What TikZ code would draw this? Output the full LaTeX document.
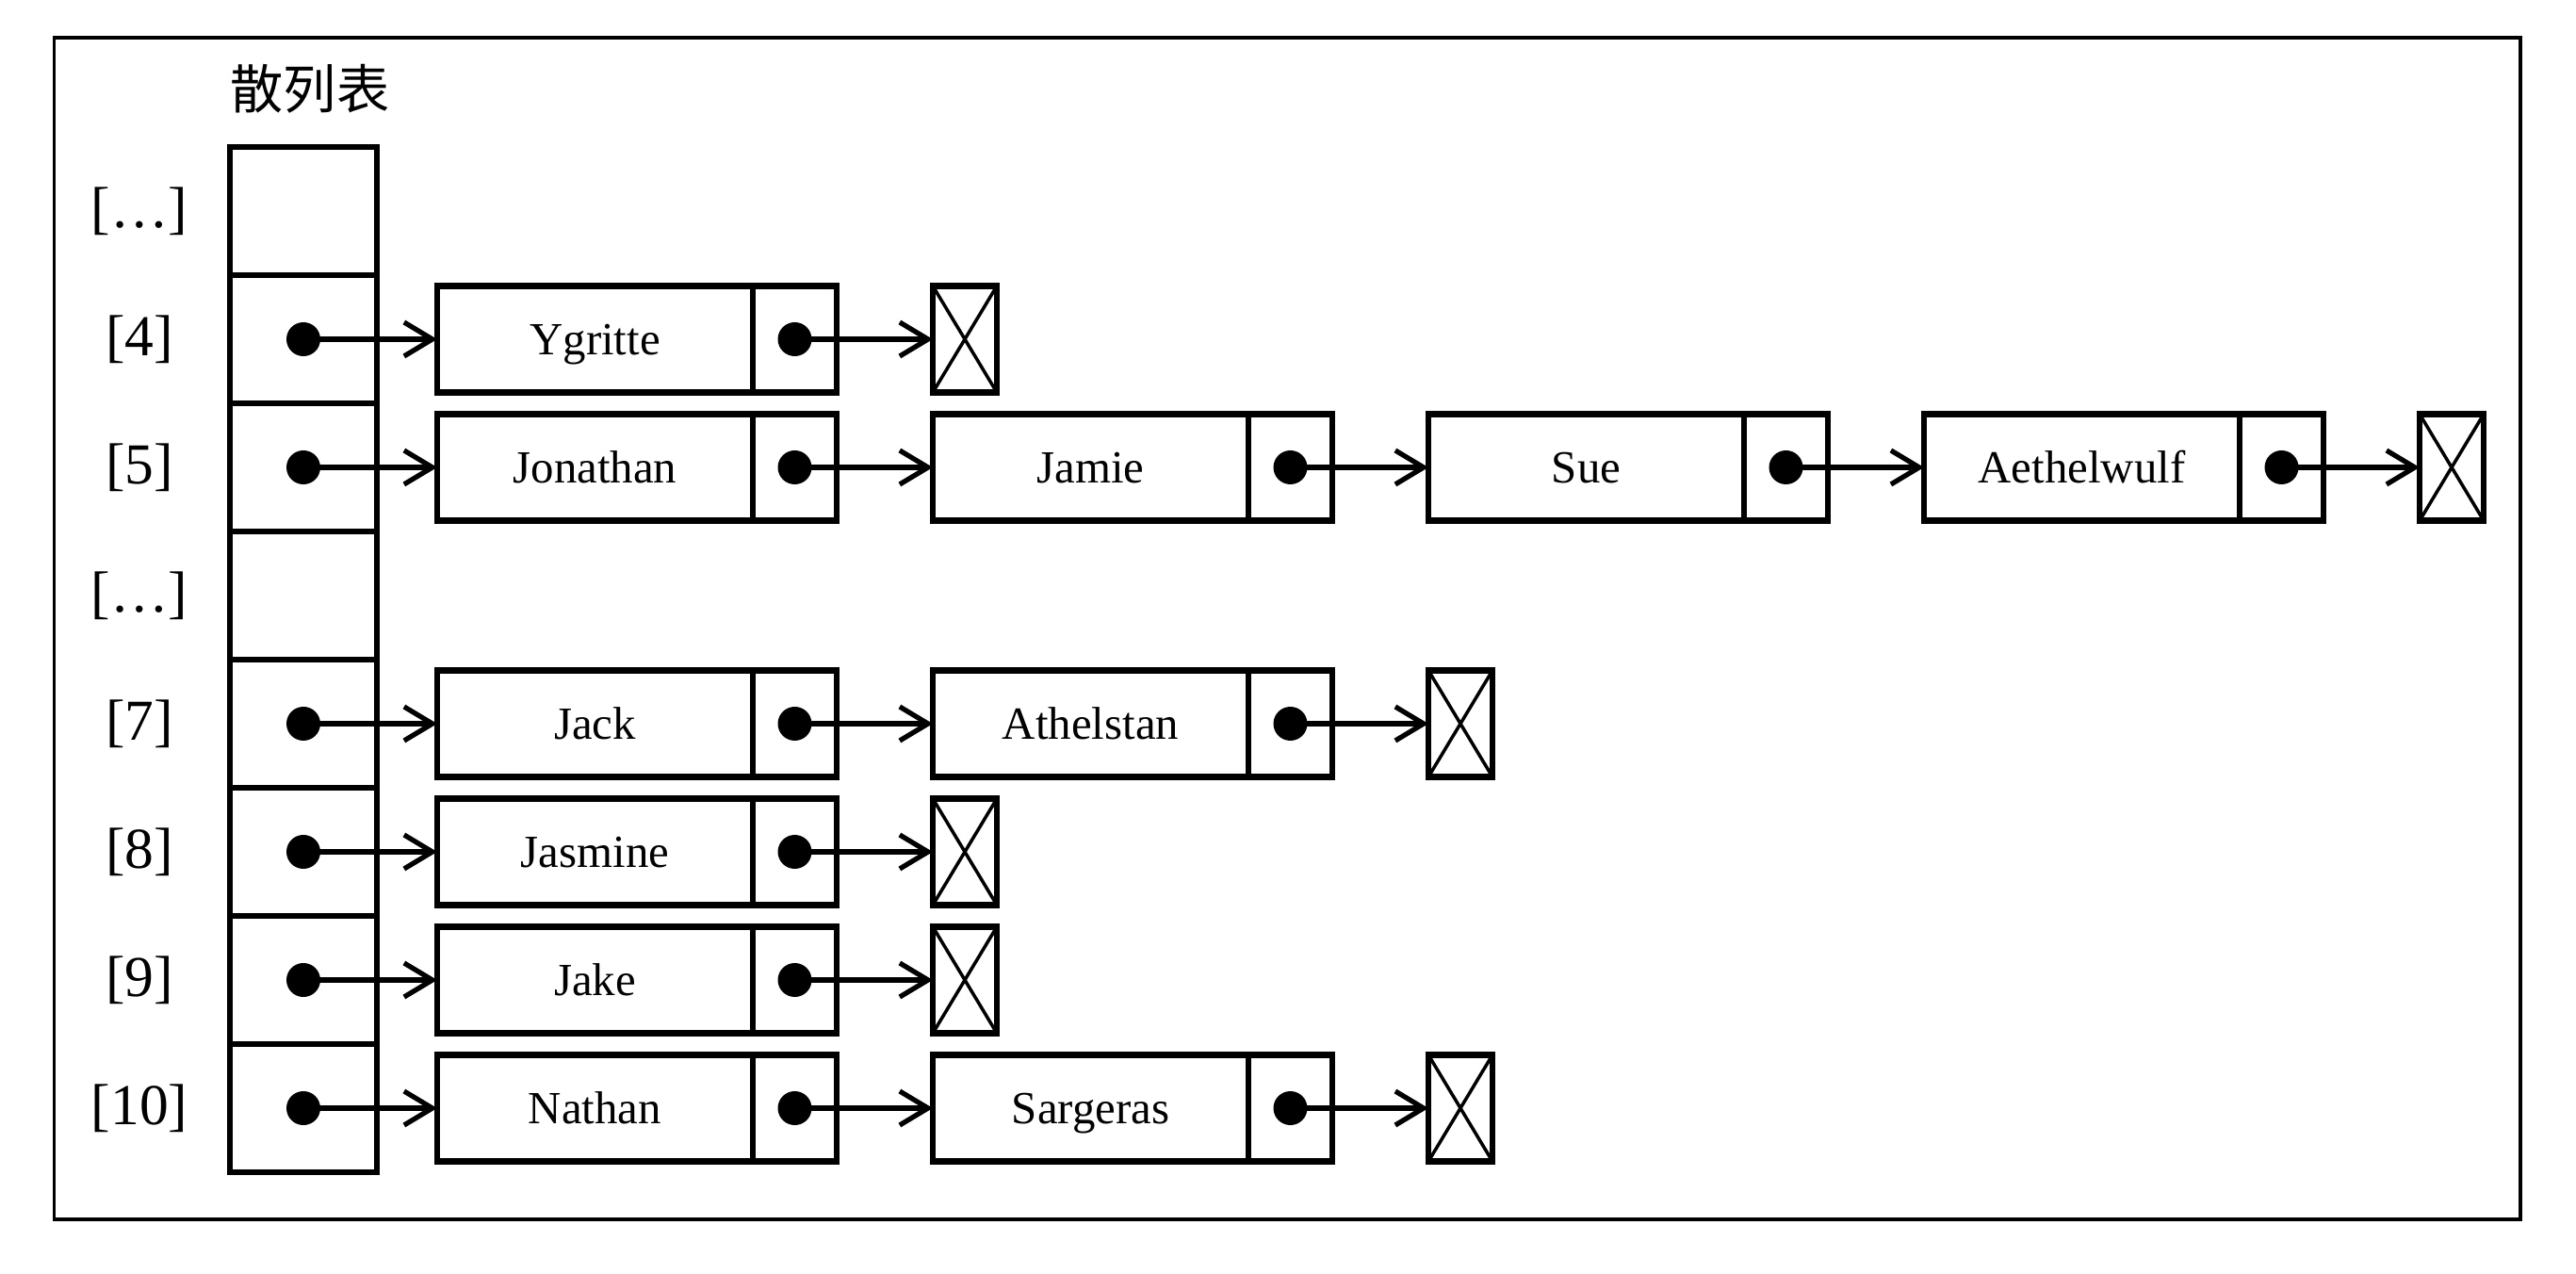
\documentclass[tikz,border=0pt]{standalone}
\usepackage{fontspec}
\setmainfont{Liberation Serif}
\newfontfamily\cjk{Noto Sans CJK SC}
\usepackage{tikz}
\usetikzlibrary{arrows.meta, positioning}

\begin{document}
\begin{tikzpicture}[
    x=1cm, y=1cm,
    slot/.style={rectangle, draw, line width=1.9pt, minimum width=1.56cm, minimum height=1.36cm, outer sep=0pt, inner sep=0pt},
    idx/.style={font=\fontsize{17.5pt}{20pt}\selectfont, inner sep=0pt},
    data/.style={rectangle, draw, line width=1.9pt, minimum width=3.35cm, minimum height=1.13cm, outer sep=0pt, inner sep=0pt,
        text height=9.2pt, text depth=0pt, font=\fontsize{13.9pt}{16pt}\selectfont},
    ptr/.style={rectangle, draw, line width=1.9pt, minimum width=0.89cm, minimum height=1.13cm, outer sep=0pt, inner sep=0pt},
    nil/.style={rectangle, draw, line width=1.9pt, minimum width=0.68cm, minimum height=1.13cm, outer sep=0pt, inner sep=0pt,
        path picture={\draw[line width=1pt] (path picture bounding box.north west) -- (path picture bounding box.south east)
            (path picture bounding box.south west) -- (path picture bounding box.north east);}},
    link/.style={-{Straight Barb[length=0.3cm, width=0.36cm]}, line width=1.5pt},
    dot/.style={circle, fill, minimum size=0.36cm, inner sep=0pt},
]
\useasboundingbox (0,0) rectangle (27.34,-13.52);
\draw[line width=1pt] (0.575,-0.40) rectangle (26.75,-12.94);

% Hash table
\node[slot] (t0) at (3.22,-2.24) {};
\node[slot, below=0pt of t0] (t1) {};
\node[slot, below=0pt of t1] (t2) {};
\node[slot, below=0pt of t2] (t3) {};
\node[slot, below=0pt of t3] (t4) {};
\node[slot, below=0pt of t4] (t5) {};
\node[slot, below=0pt of t5] (t6) {};
\node[slot, below=0pt of t6] (t7) {};
\node[font=\cjk\fontsize{16pt}{18pt}\selectfont, inner sep=0pt, anchor=west] (title) at ([yshift=0.62cm]t0.north west) {散列表};

% Indices
\node[idx] (l0) at (1.48,-2.24) {[…]};
\node[idx] (l1) at (l0 |- t1) {[4]};
\node[idx] (l2) at (l0 |- t2) {[5]};
\node[idx] (l3) at (l0 |- t3) {[…]};
\node[idx] (l4) at (l0 |- t4) {[7]};
\node[idx] (l5) at (l0 |- t5) {[8]};
\node[idx] (l6) at (l0 |- t6) {[9]};
\node[idx] (l7) at (l0 |- t7) {[10]};

% Bucket [4]
\node[data, right=0.64cm of t1] (ygr) {Ygritte};
\node[ptr, right=0pt of ygr] (ygrp) {};
\node[nil, right=1.02cm of ygrp] (n4) {};

% Bucket [5]
\node[data, right=0.64cm of t2] (jon) {Jonathan};
\node[ptr, right=0pt of jon] (jonp) {};
\node[data, right=1.02cm of jonp] (jam) {Jamie};
\node[ptr, right=0pt of jam] (jamp) {};
\node[data, right=1.02cm of jamp] (sue) {Sue};
\node[ptr, right=0pt of sue] (suep) {};
\node[data, right=1.02cm of suep] (aet) {Aethelwulf};
\node[ptr, right=0pt of aet] (aetp) {};
\node[nil, right=1.02cm of aetp] (n5) {};

% Bucket [7]
\node[data, right=0.64cm of t4] (jac) {Jack};
\node[ptr, right=0pt of jac] (jacp) {};
\node[data, right=1.02cm of jacp] (ath) {Athelstan};
\node[ptr, right=0pt of ath] (athp) {};
\node[nil, right=1.02cm of athp] (n7) {};

% Bucket [8]
\node[data, right=0.64cm of t5] (jas) {Jasmine};
\node[ptr, right=0pt of jas] (jasp) {};
\node[nil, right=1.02cm of jasp] (n8) {};

% Bucket [9]
\node[data, right=0.64cm of t6] (jak) {Jake};
\node[ptr, right=0pt of jak] (jakp) {};
\node[nil, right=1.02cm of jakp] (n9) {};

% Bucket [10]
\node[data, right=0.64cm of t7] (nat) {Nathan};
\node[ptr, right=0pt of nat] (natp) {};
\node[data, right=1.02cm of natp] (sar) {Sargeras};
\node[ptr, right=0pt of sar] (sarp) {};
\node[nil, right=1.02cm of sarp] (n10) {};

% Pointers
\draw[link] (t1.center) -- (ygr.west);   \node[dot] at (t1) {};
\draw[link] (ygrp.center) -- (n4.west);  \node[dot] at (ygrp) {};
\draw[link] (t2.center) -- (jon.west);   \node[dot] at (t2) {};
\draw[link] (jonp.center) -- (jam.west); \node[dot] at (jonp) {};
\draw[link] (jamp.center) -- (sue.west); \node[dot] at (jamp) {};
\draw[link] (suep.center) -- (aet.west); \node[dot] at (suep) {};
\draw[link] (aetp.center) -- (n5.west);  \node[dot] at (aetp) {};
\draw[link] (t4.center) -- (jac.west);   \node[dot] at (t4) {};
\draw[link] (jacp.center) -- (ath.west); \node[dot] at (jacp) {};
\draw[link] (athp.center) -- (n7.west);  \node[dot] at (athp) {};
\draw[link] (t5.center) -- (jas.west);   \node[dot] at (t5) {};
\draw[link] (jasp.center) -- (n8.west);  \node[dot] at (jasp) {};
\draw[link] (t6.center) -- (jak.west);   \node[dot] at (t6) {};
\draw[link] (jakp.center) -- (n9.west);  \node[dot] at (jakp) {};
\draw[link] (t7.center) -- (nat.west);   \node[dot] at (t7) {};
\draw[link] (natp.center) -- (sar.west); \node[dot] at (natp) {};
\draw[link] (sarp.center) -- (n10.west); \node[dot] at (sarp) {};

\end{tikzpicture}
\end{document}
